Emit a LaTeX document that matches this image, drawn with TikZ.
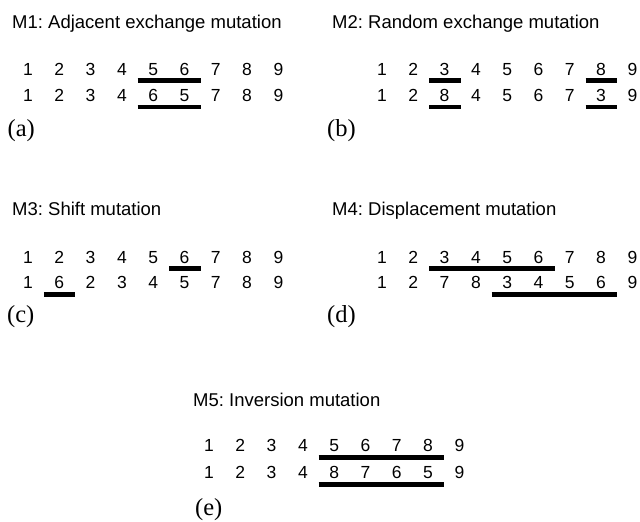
\documentclass[tikz,border=0pt]{standalone}
\usepackage{fontspec}
\setmainfont{Liberation Sans}
\newfontfamily\labfont{Liberation Serif}
\usetikzlibrary{calc}
\frenchspacing
\newcommand\digrow[4]{%
  \foreach \d [count=\i] in {#4} \node[dig] (#1\i) at ({#2+31.3*(\i-1)}, #3) {\d};}
\newcommand\digbar[3]{%
  \draw[bar] ($(#1.base)+(-15.5,#3)$) -- ($(#2.base)+(16,#3)$);}
\begin{document}
\begin{tikzpicture}[x=1pt,y=-1pt,
  title/.style={anchor=base west, inner sep=0pt, font=\fontsize{18.5}{20}\selectfont},
  dig/.style={anchor=base, inner sep=0pt, font=\fontsize{17.5}{20}\selectfont},
  sublabel/.style={anchor=base west, inner sep=0pt, font=\labfont\fontsize{24.5}{26}\selectfont},
  bar/.style={line width=4.8pt}]
\useasboundingbox (0,0) rectangle (640,522);

% (a)
\node[title] (ta) at (12,28.3) {M1: Adjacent exchange mutation};
\digrow{aa}{28}{75}{1,2,3,4,5,6,7,8,9}
\digrow{ab}{28}{101.7}{1,2,3,4,6,5,7,8,9}
\digbar{aa5}{aa6}{5.2}
\digbar{ab5}{ab6}{5.2}
\node[sublabel] (la) at (7.5,136) {(a)};

% (b)
\node[title] (tb) at (332,28.3) {M2: Random exchange mutation};
\digrow{ba}{382}{75}{1,2,3,4,5,6,7,8,9}
\digrow{bb}{382}{101.7}{1,2,8,4,5,6,7,3,9}
\digbar{ba3}{ba3}{5.2}
\digbar{ba8}{ba8}{5.2}
\digbar{bb3}{bb3}{5.2}
\digbar{bb8}{bb8}{5.2}
\node[sublabel] (lb) at (327,136) {(b)};

% (c)
\node[title] (tc) at (12,215.7) {M3: Shift mutation};
\digrow{ca}{28}{263.3}{1,2,3,4,5,6,7,8,9}
\digrow{cb}{28}{288.7}{1,6,2,3,4,5,7,8,9}
\digbar{ca6}{ca6}{5}
\digbar{cb2}{cb2}{5.5}
\node[sublabel] (lc) at (7,322) {(c)};

% (d)
\node[title] (td) at (332,215.7) {M4: Displacement mutation};
\digrow{da}{382}{263.3}{1,2,3,4,5,6,7,8,9}
\digrow{db}{382}{288.7}{1,2,7,8,3,4,5,6,9}
\digbar{da3}{da6}{5}
\digbar{db5}{db8}{5.5}
\node[sublabel] (ld) at (327,322) {(d)};

% (e)
\node[title] (te) at (193,406) {M5: Inversion mutation};
\digrow{ea}{209}{451.7}{1,2,3,4,5,6,7,8,9}
\digrow{eb}{209}{478.7}{1,2,3,4,8,7,6,5,9}
\digbar{ea5}{ea8}{6}
\digbar{eb5}{eb8}{5.5}
\node[sublabel] (le) at (195,515.5) {(e)};
\end{tikzpicture}
\end{document}
